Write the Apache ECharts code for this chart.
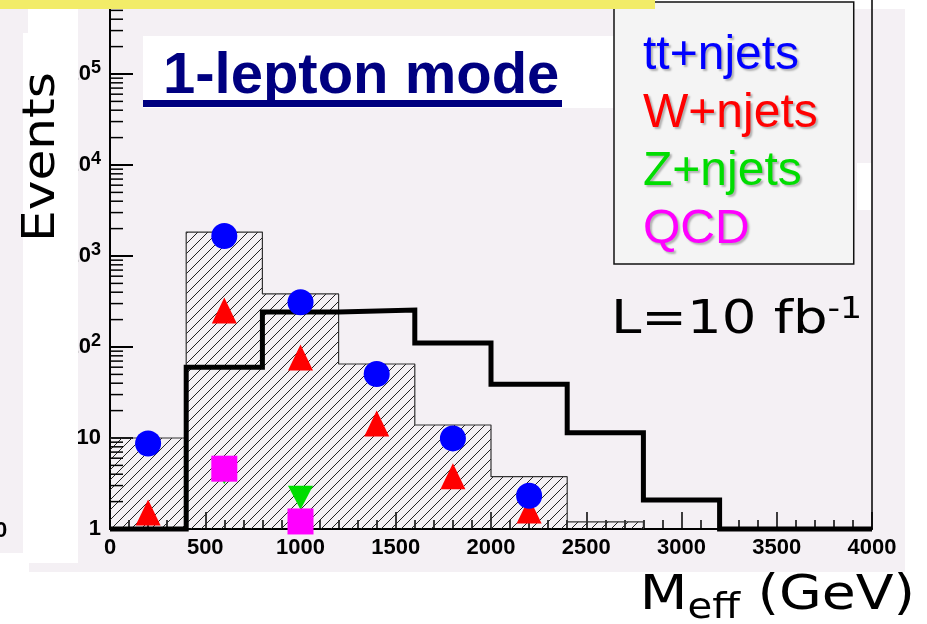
<!DOCTYPE html>
<html>
<head>
<meta charset="utf-8">
<script src="https://cdn.jsdelivr.net/npm/echarts/dist/echarts.min.js"></script>
<style>
  html, body { margin: 0; padding: 0; background: #ffffff; }
  #chart { width: 927px; height: 624px; }
</style>
</head>
<body>
<div id="chart"></div>
<script>
// M_eff bin edges in GeV (400 GeV bins)
const binEdges = [0, 400, 800, 1200, 1600, 2000, 2400, 2800, 3200, 3600, 4000];
// Summed Standard Model background, events per bin (hatched histogram)
const bkgTotal = [10, 1830, 383, 65, 13.9, 3.76, 1.2];
// Signal, events per bin (thick black histogram)
const signal = [1, 60, 243, 255, 111, 39, 11.4, 2.08, 1, 1];
// Individual background processes at the bin centres
const markerMeff = [200, 600, 1000, 1400, 1800, 2200];
const ttValues = [8.7, 1660, 310, 50.5, 9.9, 2.32];
const wValues = [1.52, 252, 76.7, 14.4, 3.8, 1.6];
const zMeff = [600, 1000];
const zValues = [4.2, 2.2];
const qcdMeff = [600, 1000];
const qcdValues = [4.6, 1.21];
// Process names shown in the legend
const processNames = ['tt+njets', 'W+njets', 'Z+njets', 'QCD'];
const processColors = ['#0000ff', '#ff0000', '#00dd00', '#ff00ff'];
// Axis ranges
const xRange = [0, 4000];
const yRange = [1, 1e6];

// step-histogram points: left edge of every bin, closed at the last edge
function histSteps(values, closeAtMin) {
  const pts = values.map((v, i) => [binEdges[i], v]);
  const end = binEdges[values.length];
  pts.push([end, closeAtMin ? yRange[0] : values[values.length - 1]]);
  return pts;
}

// "/" hatch tile for the background histogram
function hatchTile() {
  const s = 10;
  const c = document.createElement('canvas');
  c.width = s; c.height = s;
  const g = c.getContext('2d');
  g.strokeStyle = '#202020';
  g.lineWidth = 1;
  g.beginPath();
  g.moveTo(-1, s + 1); g.lineTo(s + 1, -1);
  g.moveTo(-1, 1); g.lineTo(1, -1);
  g.moveTo(s - 1, s + 1); g.lineTo(s + 1, s - 1);
  g.stroke();
  return c;
}

// minor log ticks 2..9 of each decade
const yMinorTicks = [];
for (let k = 0; k < 6; k++) {
  for (let m = 2; m <= 9; m++) yMinorTicks.push(m * Math.pow(10, k));
}

const chart = echarts.init(document.getElementById('chart'), null, { renderer: 'canvas' });

const bold22 = { fontFamily: 'Liberation Sans', fontWeight: 'bold', fontSize: 22, color: '#000' };

function scatter(name, xs, ys, color, symbol, size, rotate, z) {
  return {
    type: 'scatter', name: name, symbol: symbol, symbolSize: size, symbolRotate: rotate || 0,
    data: xs.map((x, i) => [x, ys[i]]), itemStyle: { color: color, opacity: 1 },
    z: z, clip: false, silent: true
  };
}

const option = {
  animation: false,
  backgroundColor: 'transparent',
  title: {
    text: '1-lepton mode', left: 158, top: 43,
    textStyle: { fontFamily: 'Liberation Sans', fontWeight: 'bold', fontSize: 58, color: '#000080' }
  },
  legend: {
    left: 614, top: 2, orient: 'vertical', selectedMode: false,
    itemWidth: 0, itemHeight: 0, itemGap: 10,
    padding: [30, 36, 10, 24],
    backgroundColor: '#f4f4f4', borderColor: '#111', borderWidth: 1.5,
    textStyle: {
      fontFamily: 'Liberation Sans', fontSize: 48, lineHeight: 48,
      textShadowColor: 'rgba(0,0,0,0.28)', textShadowOffsetX: 2, textShadowOffsetY: 2, textShadowBlur: 2
    },
    data: processNames.map((n, i) => ({ name: n, icon: 'none', textStyle: { color: processColors[i] } }))
  },
  grid: {
    left: 110, right: 55, top: -17, bottom: 95, show: true,
    borderColor: '#000', borderWidth: 1.5, backgroundColor: 'transparent',
    outerBoundsMode: 'none'
  },
  xAxis: {
    type: 'value', min: xRange[0], max: xRange[1], interval: 500,
    axisLine: { onZero: false, lineStyle: { color: '#000', width: 2 } },
    axisTick: { inside: true, length: 17, lineStyle: { color: '#000', width: 1.5 } },
    minorTick: { show: true, splitNumber: 5, length: 9, lineStyle: { color: '#000', width: 1.5 } },
    splitLine: { show: false },
    axisLabel: Object.assign({ margin: 8, formatter: v => String(v) }, bold22)
  },
  yAxis: {
    type: 'log', logBase: 10, min: yRange[0], max: yRange[1], splitNumber: 6,
    axisLine: { lineStyle: { color: '#000', width: 2 } },
    axisTick: { inside: true, length: 23, lineStyle: { color: '#000', width: 2 } },
    splitLine: { show: false },
    axisLabel: Object.assign({
      margin: 9,
      formatter: function (v) {
        const e = Math.round(Math.log10(v));
        if (e === 0) return '1';
        if (e === 1) return '10';
        return '10{sup|' + e + '}';
      },
      rich: { sup: { fontFamily: 'Liberation Sans', fontWeight: 'bold', fontSize: 18, color: '#000', padding: [0, 0, 12, 0] } }
    }, bold22)
  },
  series: [
    {
      type: 'line', name: 'SM background', data: histSteps(bkgTotal, true), step: 'end',
      symbol: 'none', silent: true, z: 1,
      lineStyle: { color: '#333', width: 1.2 },
      areaStyle: { color: { image: hatchTile(), repeat: 'repeat' }, origin: 'start', opacity: 1 }
    },
    {
      type: 'line', name: 'signal', data: histSteps(signal, false), step: 'end',
      symbol: 'none', silent: true, z: 3, clip: false,
      lineStyle: { color: '#000', width: 5, join: 'miter' }
    },
    {
      type: 'custom', name: 'minor ticks', silent: true, clip: false, z: 2,
      data: yMinorTicks.map(v => [xRange[0], v]),
      renderItem: function (params, api) {
        const p = api.coord([api.value(0), api.value(1)]);
        return { type: 'line', shape: { x1: p[0], y1: p[1], x2: p[0] + 13, y2: p[1] }, style: { stroke: '#000', lineWidth: 1.5 } };
      }
    },
    scatter(processNames[2], zMeff, zValues, processColors[2], 'triangle', [25, 24], 180, 4),
    scatter(processNames[3], qcdMeff, qcdValues, processColors[3], 'rect', 26, 0, 5),
    scatter(processNames[1], markerMeff, wValues, processColors[1], 'triangle', [25, 26], 0, 6),
    scatter(processNames[0], markerMeff, ttValues, processColors[0], 'circle', 26, 0, 7)
  ],
  graphic: [
    { type: 'rect', z: -20, shape: { x: 0, y: 9, width: 905, height: 563 }, style: { fill: '#f4f0f4' } },
    { type: 'rect', z: -19, shape: { x: 0, y: 553, width: 29, height: 19 }, style: { fill: '#ffffff' } },
    { type: 'rect', z: -19, shape: { x: 143, y: 36, width: 471, height: 72 }, style: { fill: '#ffffff' } },
    { type: 'rect', z: -19, shape: { x: 857, y: 163, width: 15, height: 47 }, style: { fill: '#ffffff' } },
    { type: 'rect', z: 100, shape: { x: 23, y: 33, width: 55, height: 530 }, style: { fill: '#ffffff' } },
    { type: 'rect', z: 100, shape: { x: 28, y: 9, width: 50, height: 24 }, style: { fill: '#ffffff' } },
    { type: 'rect', z: 10, shape: { x: 143, y: 100, width: 419, height: 7 }, style: { fill: '#000080' } },
    { type: 'rect', z: 200, shape: { x: 0, y: 0, width: 655, height: 9 }, style: { fill: '#f2ec68' } },
    // y-axis title
    {
      type: 'text', z: 150, x: 43, y: 157, rotation: Math.PI / 2, scaleX: 1.14,
      style: { text: 'Events', font: '44px "DejaVu Sans"', fill: '#000', align: 'center', verticalAlign: 'middle' }
    },
    // integrated luminosity
    {
      type: 'text', z: 150, x: 611, y: 321, scaleX: 1.16,
      style: {
        text: 'L=10 fb{sup|-1}', font: '47px "DejaVu Sans"', fill: '#000', align: 'left', verticalAlign: 'middle',
        rich: { sup: { fontFamily: 'DejaVu Sans', fontSize: 30, padding: [0, 0, 22, 0] } }
      }
    },
    // x-axis title
    {
      type: 'text', z: 150, x: 915, y: 597, scaleX: 1.15,
      style: {
        text: 'M{sub|eff} (GeV)', font: '48px "DejaVu Sans"', fill: '#000', align: 'right', verticalAlign: 'middle',
        rich: { sub: { fontFamily: 'DejaVu Sans', fontSize: 35, padding: [24, 0, 0, 0] } }
      }
    },
    {
      type: 'text', z: 150, x: -5, y: 531,
      style: { text: '0', font: 'bold 22px "Liberation Sans"', fill: '#000', align: 'left', verticalAlign: 'middle' }
    }
  ]
};

chart.setOption(option);
</script>
</body>
</html>
